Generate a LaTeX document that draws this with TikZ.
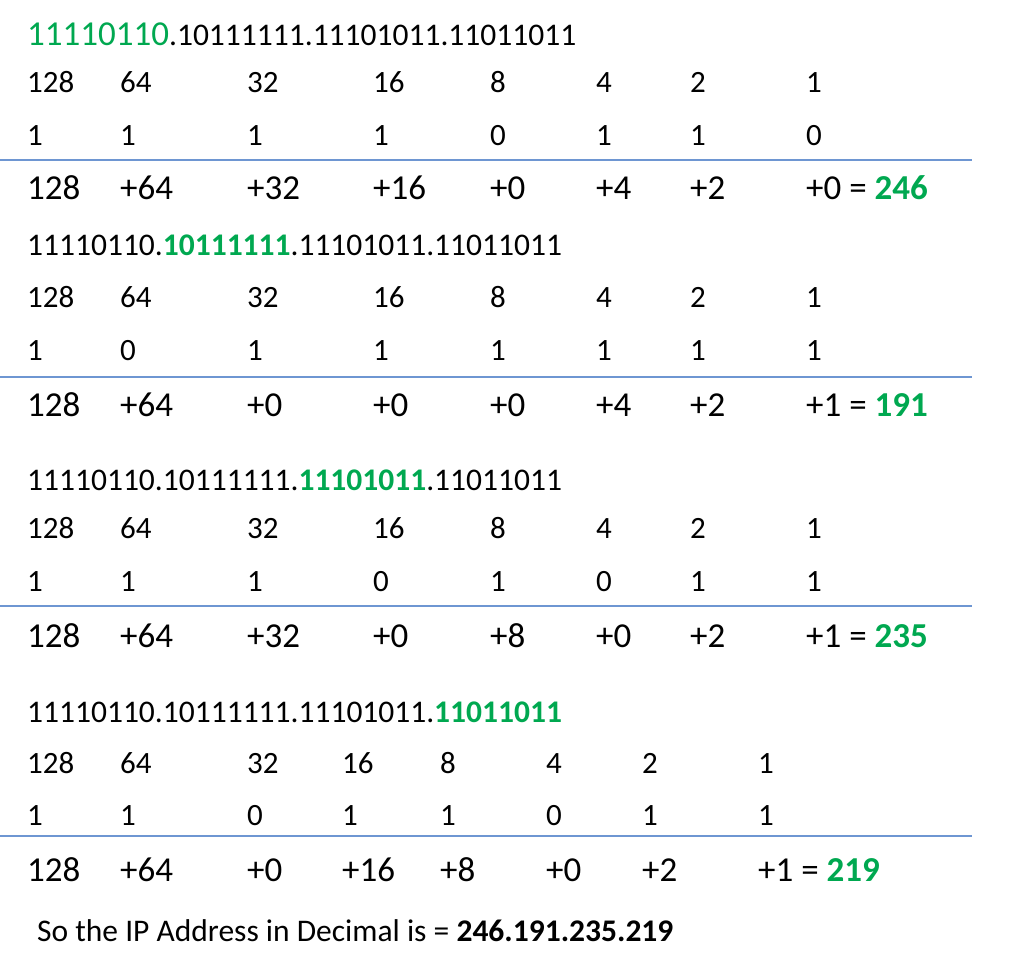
\documentclass[tikz,border=0pt]{standalone}
\usepackage{fontspec}
\setmainfont{Carlito}
\definecolor{grn}{RGB}{0,168,80}
\definecolor{rule}{RGB}{110,150,210}
\tikzset{
 t/.style={anchor=base west,inner sep=0pt,font=\fontsize{31}{32}\selectfont},
 h/.style={anchor=base west,inner sep=0pt,font=\fontsize{31.5}{32}\selectfont},
 s/.style={anchor=base west,inner sep=0pt,font=\fontsize{35}{36}\selectfont},
 sep/.style={draw=rule,line width=1.3pt}
}
\newcommand{\gb}[1]{\textcolor{grn}{\bfseries #1}}
\begin{document}
\begin{tikzpicture}[x=1pt,y=-1pt]
\useasboundingbox (0,0) rectangle (1024,956);
% section 1
\node[h] (h1) at (27,45) {{\fontsize{35}{36}\selectfont\textcolor{grn}{11110110}}.10111111.11101011.11011011};
\foreach \x/\w/\b/\s [count=\i] in {27/128/1/128,120/64/1/+64,247/32/1/+32,373/16/1/+16,490/8/0/+0,596/4/1/+4,690/2/1/+2,806/1/0/{+0 = \gb{246}}}{
 \node[t] (wa\i) at (\x,92) {\w};
 \node[t] (ba\i) at (\x,145) {\b};
 \node[s] (sa\i) at (\x,199) {\s};}
\coordinate (la) at (0,160); \coordinate (ra) at (972,160);
\draw[sep] (la) -- (ra);
% section 2
\node[h] (h2) at (27,255) {11110110.\gb{10111111}.11101011.11011011};
\foreach \x/\w/\b/\s [count=\i] in {27/128/1/128,120/64/0/+64,247/32/1/+0,373/16/1/+0,490/8/1/+0,596/4/1/+4,690/2/1/+2,806/1/1/{+1 = \gb{191}}}{
 \node[t] (wb\i) at (\x,307) {\w};
 \node[t] (bb\i) at (\x,360) {\b};
 \node[s] (sb\i) at (\x,416) {\s};}
\coordinate (lb) at (0,377); \coordinate (rb) at (972,377);
\draw[sep] (lb) -- (rb);
% section 3
\node[h] (h3) at (27,490) {11110110.10111111.\gb{11101011}.11011011};
\foreach \x/\w/\b/\s [count=\i] in {27/128/1/128,120/64/1/+64,247/32/1/+32,373/16/0/+0,490/8/1/+8,596/4/0/+0,690/2/1/+2,806/1/1/{+1 = \gb{235}}}{
 \node[t] (wc\i) at (\x,538) {\w};
 \node[t] (bc\i) at (\x,591) {\b};
 \node[s] (sc\i) at (\x,647) {\s};}
\coordinate (lc) at (0,606); \coordinate (rc) at (972,606);
\draw[sep] (lc) -- (rc);
% section 4
\node[h] (h4) at (27,722) {11110110.10111111.11101011.\gb{11011011}};
\foreach \x/\w/\b/\s [count=\i] in {27/128/1/128,120/64/1/+64,247/32/0/+0,342/16/1/+16,440/8/1/+8,546/4/0/+0,642/2/1/+2,758/1/1/{+1 = \gb{219}}}{
 \node[t] (wd\i) at (\x,773) {\w};
 \node[t] (bd\i) at (\x,825) {\b};
 \node[s] (sd\i) at (\x,881) {\s};}
\coordinate (ld) at (0,836); \coordinate (rd) at (972,836);
\draw[sep] (ld) -- (rd);
\node[anchor=base west,inner sep=0pt,font=\fontsize{31.5}{32}\selectfont] (fin) at (37,941) {So the IP Address in Decimal is = \textbf{246.191.235.219}};
\end{tikzpicture}
\end{document}
